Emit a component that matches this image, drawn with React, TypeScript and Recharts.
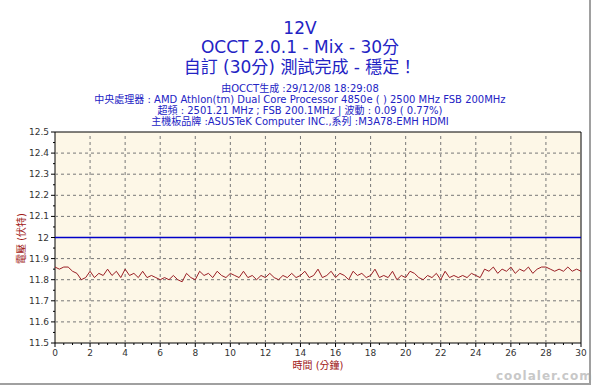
import { LineChart, Line, XAxis, YAxis, ReferenceArea, ReferenceLine } from 'recharts';

// 12V rail voltage, sampled every 15 seconds (0 .. 30 min)
const STEP_MIN = 0.25;
const voltage = [
  11.86, 11.85, 11.86, 11.86, 11.84, 11.83, 11.8, 11.81, 11.84, 11.81,
  11.83, 11.82, 11.85, 11.82, 11.84, 11.81, 11.85, 11.82, 11.83, 11.81,
  11.84, 11.81, 11.82, 11.81, 11.8, 11.81, 11.8, 11.82, 11.8, 11.79,
  11.83, 11.81, 11.8, 11.84, 11.82, 11.83, 11.81, 11.84, 11.82, 11.81,
  11.83, 11.82, 11.81, 11.84, 11.81, 11.82, 11.8, 11.82, 11.81, 11.83,
  11.81, 11.8, 11.82, 11.81, 11.83, 11.81, 11.82, 11.84, 11.81, 11.82,
  11.85, 11.81, 11.82, 11.84, 11.81, 11.83, 11.82, 11.8, 11.84, 11.82,
  11.83, 11.81, 11.82, 11.85, 11.81, 11.82, 11.81, 11.84, 11.8, 11.82,
  11.81, 11.84, 11.83, 11.81, 11.8, 11.82, 11.81, 11.83, 11.8, 11.84,
  11.81, 11.82, 11.81, 11.82, 11.81, 11.83, 11.82, 11.81, 11.85, 11.84,
  11.86, 11.83, 11.85, 11.84, 11.86, 11.83, 11.85, 11.84, 11.86, 11.83,
  11.85, 11.86, 11.86, 11.85, 11.84, 11.85, 11.84, 11.86, 11.84, 11.85,
  11.84,
];
const nominal = 12;

const titleLines = ['12V', 'OCCT 2.0.1 - Mix - 30分', '自訂 (30分) 測試完成 - 穩定！'];
const infoLines = [
  '由OCCT生成 :29/12/08 18:29:08',
  '中央處理器 : AMD Athlon(tm) Dual Core Processor 4850e (  ) 2500 MHz FSB 200MHz',
  '超頻 : 2501.21 MHz ; FSB 200.1MHz | 波動 : 0.09 ( 0.77%)',
  '主機板品牌 :ASUSTeK Computer INC.,系列 :M3A78-EMH HDMI',
];

const xGrid = [2, 4, 6, 8, 10, 12, 14, 16, 18, 20, 22, 24, 26, 28];
const yGrid = [11.6, 11.7, 11.8, 11.9, 12, 12.1, 12.2, 12.3, 12.4];
const xTicks = Array.from({ length: 61 }, (_, i) => i * 0.5);
const yTicks = Array.from({ length: 21 }, (_, i) => (1150 + i * 5) / 100);

const data = voltage.map((v, i) => ({ minute: i * STEP_MIN, volt: v, nominal }));

const FONT = '"DejaVu Sans", "Noto Sans CJK TC", sans-serif';
const BLUE = '#2323c4';

function XTick(props: any) {
  const { x, y, payload } = props;
  const v = payload.value;
  const major = Math.round(v * 2) % 4 === 0;
  const top = y - 6;
  return (
    <g>
      <line x1={x} x2={x} y1={top} y2={top + (major ? 4 : 2)} stroke="#000" />
      {major && (
        <text x={x} y={top + 13} textAnchor="middle" fontSize={9} fill="#333" fontFamily={FONT}>
          {v}
        </text>
      )}
    </g>
  );
}

function YTick(props: any) {
  const { x, y, payload } = props;
  const v = payload.value;
  const major = Math.round(v * 100) % 10 === 0;
  const right = x + 6;
  return (
    <g>
      <line x1={right} x2={right - (major ? 4 : 2)} y1={y} y2={y} stroke="#000" />
      {major && (
        <text x={right - 6} y={y + 3} textAnchor="end" fontSize={9} fill="#333" fontFamily={FONT}>
          {Number(v.toFixed(1)).toString()}
        </text>
      )}
    </g>
  );
}

export default function App() {
  return (
    <div style={{ position: 'absolute', left: 0, top: 0, width: 600, height: 386, background: '#fff', fontFamily: FONT, overflow: 'hidden' }}>
      {titleLines.map((t, i) => (
        <div key={t} style={{ position: 'absolute', left: 0, width: 600, top: [18, 37, 57][i], textAlign: 'center', color: BLUE, fontSize: 17, lineHeight: '20px' }}>
          {t}
        </div>
      ))}
      {infoLines.map((t, i) => (
        <div key={t} style={{ position: 'absolute', left: 0, width: 600, top: 83 + i * 11, textAlign: 'center', color: BLUE, fontSize: 10, lineHeight: '11px' }}>
          {t}
        </div>
      ))}
      <LineChart width={600} height={386} data={data} margin={{ top: 132, right: 19, bottom: 23, left: 15 }}>
        <XAxis dataKey="minute" type="number" domain={[0, 30]} ticks={xTicks} interval={0} tickLine={false} axisLine={false} tick={<XTick />} height={20} tickSize={4} tickMargin={2} />
        <YAxis type="number" domain={[11.5, 12.5]} ticks={yTicks} interval={0} tickLine={false} axisLine={false} tick={<YTick />} width={40} tickSize={4} tickMargin={2} />
        <ReferenceArea x1={0} x2={30} y1={11.5} y2={12.5} fill="#fdf7e7" fillOpacity={1} stroke="none" />
        {xGrid.map(x => (
          <ReferenceLine key={`x${x}`} x={x} stroke="#777" strokeDasharray="3 3" />
        ))}
        {yGrid.map(y => (
          <ReferenceLine key={`y${y}`} y={y} stroke="#777" strokeDasharray="3 3" />
        ))}
        <ReferenceArea x1={0} x2={30} y1={11.5} y2={12.5} fill="none" stroke="#000" strokeWidth={1} />
        <Line dataKey="nominal" stroke="#0000c8" strokeWidth={1.5} dot={false} isAnimationActive={false} />
        <Line dataKey="volt" stroke="#9a1e24" strokeWidth={1} dot={false} isAnimationActive={false} />
      </LineChart>
      <div style={{ position: 'absolute', left: -10, top: 231, width: 60, transform: 'rotate(-90deg)', transformOrigin: 'center', color: '#a01818', fontSize: 10, textAlign: 'center', whiteSpace: 'nowrap' }}>
        電壓 (伏特)
      </div>
      <div style={{ position: 'absolute', left: 0, width: 636, top: 357, textAlign: 'center', color: '#a01818', fontSize: 10 }}>
        時間 (分鐘)
      </div>
      <div style={{ position: 'absolute', left: 496, top: 369, color: '#c8c8c8', fontSize: 12, fontWeight: 'bold', letterSpacing: 1 }}>
        coolaler.com
      </div>
      <div style={{ position: 'absolute', left: 589, top: 0, width: 2, height: 384, background: '#a0a0a0' }} />
      <div style={{ position: 'absolute', left: 0, top: 383, width: 591, height: 2, background: '#a0a0a0' }} />
    </div>
  );
}
